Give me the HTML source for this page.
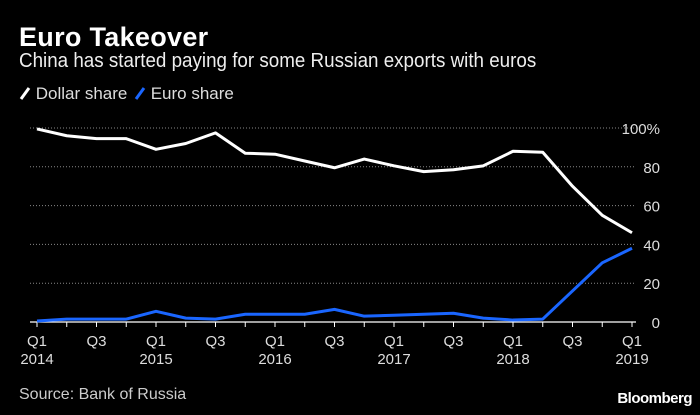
<!DOCTYPE html>
<html><head><meta charset="utf-8"><style>
html,body{margin:0;padding:0;background:#000;}
body{width:700px;height:415px;overflow:hidden;font-family:"Liberation Sans",sans-serif;color:#fff;position:relative}
.t{position:absolute;white-space:nowrap}
</style></head><body>
<div class="t" style="left:19px;top:22px;font-size:27px;font-weight:bold;letter-spacing:0.3px">Euro Takeover</div>
<div class="t" style="left:19px;top:50px;font-size:20px;color:#eee;transform:scaleX(0.94);transform-origin:0 0">China has started paying for some Russian exports with euros</div>
<div class="t" style="left:19px;top:84px;font-size:17px;color:#ddd"><svg width="12" height="16" style="vertical-align:-2px"><line x1="2" y1="14" x2="10" y2="3" stroke="#fff" stroke-width="3"/></svg> Dollar share</div>
<div class="t" style="left:134px;top:84px;font-size:17px;color:#ddd"><svg width="12" height="16" style="vertical-align:-2px"><line x1="2" y1="14" x2="10" y2="3" stroke="#1a66ff" stroke-width="3"/></svg> Euro share</div>
<div class="t" style="left:19px;top:386px;font-size:16px;color:#ccc">Source: Bank of Russia</div>
<div class="t" style="right:8px;top:390px;font-size:15px;font-weight:bold;letter-spacing:-0.5px">Bloomberg</div>
<svg id="chart" width="700" height="415" style="position:absolute;left:0;top:0"></svg>
<script>
const quarters=["Q1","Q2","Q3","Q4","Q1","Q2","Q3","Q4","Q1","Q2","Q3","Q4","Q1","Q2","Q3","Q4","Q1","Q2","Q3","Q4","Q1"];
const dollarShare=[99.5,96,94.5,94.5,89,92,97.5,87,86.5,83,79.5,84,80.5,77.5,78.5,80.5,88,87.5,70,55,46];
const euroShare=[0.5,1.5,1.5,1.5,5.5,2,1.5,4,4,4,6.5,3,3.5,4,4.5,2,1,1.5,16,30.5,38];
const yTicks=[0,20,40,60,80,100];
const yTickLabels=["0","20","40","60","80","100%"];
const xLabelIdx=[0,2,4,6,8,10,12,14,16,18,20];
const xLabels=["Q1\n2014","Q3","Q1\n2015","Q3","Q1\n2016","Q3","Q1\n2017","Q3","Q1\n2018","Q3","Q1\n2019"];
const svg=document.getElementById('chart');
const NS="http://www.w3.org/2000/svg";
const x0=37,x1=632,y0=322,y100=128;
const xs=i=>x0+(x1-x0)*i/(quarters.length-1);
const ys=v=>y0+(y100-y0)*v/100;
function mk(tag,attrs){const e=document.createElementNS(NS,tag);for(const k in attrs)e.setAttribute(k,attrs[k]);svg.appendChild(e);return e;}
yTicks.forEach((v,i)=>{
  const l=mk('line',{x1:30,x2:636,y1:ys(v),y2:ys(v),stroke:v===0?'#fff':'#888','stroke-width':v===0?1.2:1,'stroke-dasharray':v===0?'':'1,2'});
  
  
  const t=mk('text',{x:660,y:ys(v)+6,'text-anchor':'end',fill:'#ddd','font-size':15,'font-family':'Liberation Sans, sans-serif'});
  t.textContent=yTickLabels[i];
  
  
});
quarters.forEach((q,i)=>{
  const tk=mk('line',{x1:xs(i),x2:xs(i),y1:y0,y2:y0+5,stroke:'#fff','stroke-width':1});
  
  
});
xLabelIdx.forEach((idx,j)=>{
  const parts=xLabels[j].split("\n");
  parts.forEach((p,k)=>{
    const t=mk('text',{x:xs(idx),y:346+k*18,'text-anchor':'middle',fill:'#ddd','font-size':15,'font-family':'Liberation Sans, sans-serif'});
    t.textContent=p;
    
    
  });
});
function line(data,color,name){
  const p=mk('polyline',{points:data.map((v,i)=>xs(i)+','+ys(v)).join(' '),fill:'none',stroke:color,'stroke-width':3,'stroke-linejoin':'round'});
  
  
}
line(dollarShare,'#fff','dollar-share-line');
line(euroShare,'#1a66ff','euro-share-line');
</script>
</body></html>
